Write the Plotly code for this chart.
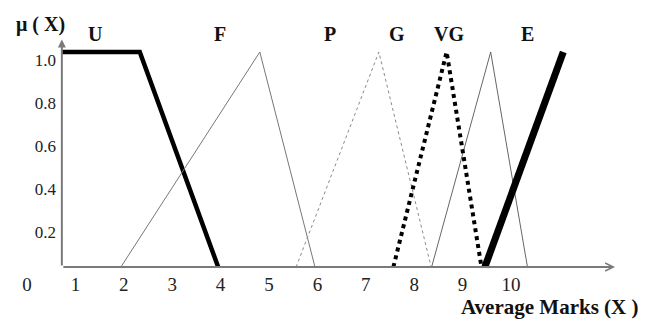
import plotly.graph_objects as go

# membership functions (x = average marks, y = membership)
u_x = [0.72, 2.33, 3.95]
u_y = [1.0, 1.0, 0.0]
f_x = [1.94, 4.81, 5.95]
f_y = [0.0, 1.0, 0.0]
p_x = [5.56, 7.27, 8.35]
p_y = [0.0, 1.0, 0.0]
vg_x = [7.57, 8.67, 9.39]
vg_y = [0.0, 1.0, 0.0]
g_x = [8.36, 9.58, 10.34]
g_y = [0.0, 1.0, 0.0]
e_x = [9.46, 11.08]
e_y = [0.0, 1.0]

set_labels = ["U", "F", "P", "G", "VG", "E"]
x_ticks = list(range(0, 11))
y_ticks = [0.2, 0.4, 0.6, 0.8, 1.0]
y_tick_text = ["0.2", "0.4", "0.6", "0.8", "1.0"]

SERIF = "Liberation Serif, Times New Roman, serif"
AXIS_GREY = "#7a7a7a"

fig = go.Figure()

def add_curve(xs, ys, width, color, dash="solid"):
    fig.add_trace(go.Scatter(
        x=xs, y=ys, mode="lines",
        line=dict(width=width, color=color, dash=dash),
        hoverinfo="skip", showlegend=False,
    ))

add_curve(u_x, u_y, 4.5, "black")
add_curve(f_x, f_y, 1, "#777777")
add_curve(p_x, p_y, 1, "#8a8a8a", "dot")
add_curve(g_x, g_y, 1, "#666666")
add_curve(vg_x, vg_y, 4, "black", "dot")
add_curve(e_x, e_y, 7, "black")

# axes drawn as arrows
fig.add_annotation(x=0.72, y=1.058, ax=0.72, ay=0, xref="x", yref="y",
                   axref="x", ayref="y", showarrow=True, arrowhead=2,
                   arrowsize=0.8, arrowwidth=2, arrowcolor=AXIS_GREY,
                   standoff=0, text="")
fig.add_annotation(x=12.15, y=0, ax=0.72, ay=0, xref="x", yref="y",
                   axref="x", ayref="y", showarrow=True, arrowhead=5,
                   arrowsize=0.8, arrowwidth=2, arrowcolor=AXIS_GREY,
                   standoff=0, text="")

label_x = [1.40, 3.99, 6.26, 7.64, 8.72, 10.35]
for lab, lx in zip(set_labels, label_x):
    fig.add_annotation(x=lx, y=1.084, xref="x", yref="y", text=f"<b>{lab}</b>",
                       showarrow=False, font=dict(family=SERIF, size=20, color="#111"))

fig.add_annotation(x=0.28, y=1.128, xref="x", yref="y", text="<b>μ ( X)</b>",
                   showarrow=False, font=dict(family=SERIF, size=20, color="#111"))
fig.add_annotation(x=10.79, y=-0.188, xref="x", yref="y", text="<b>Average Marks (X )</b>",
                   showarrow=False, font=dict(family=SERIF, size=21, color="#111"))

# the page body adds an 8px offset, so the axes are laid out 8px up and left
fig.update_layout(
    width=656, height=320,
    margin=dict(l=0, r=0, t=0, b=0),
    paper_bgcolor="white", plot_bgcolor="white",
    xaxis=dict(range=[-0.3926, 13.161], domain=[0, 1], anchor="free", position=61 / 320,
               showgrid=False, zeroline=False, showline=False, ticks="",
               tickvals=x_ticks, ticklabelstandoff=4,
               tickfont=dict(family=SERIF, size=19, color="#222")),
    yaxis=dict(range=[-0.2837, 1.2047], domain=[0, 1], anchor="free", position=54 / 656,
               showgrid=False, zeroline=False, showline=False, ticks="",
               tickvals=y_ticks, ticktext=y_tick_text, ticklabelshift=8,
               ticklabelstandoff=6,
               tickfont=dict(family=SERIF, size=17, color="#222")),
)

fig.write_html("out.html")
